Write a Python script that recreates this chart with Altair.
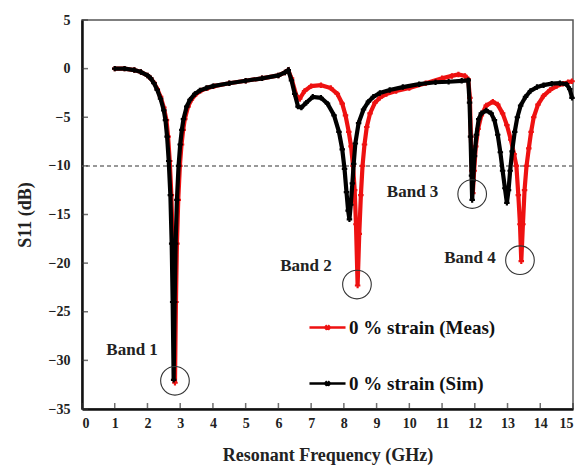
import altair as alt
import pandas as pd

# ---- data ----
sim_f = [1.0, 1.3, 1.6, 1.8, 2.0, 2.1, 2.2, 2.3, 2.4, 2.5,
         2.55, 2.6, 2.65, 2.7, 2.74, 2.77, 2.8, 2.83, 2.86, 2.9,
         2.95, 3.0, 3.05, 3.1, 3.2, 3.3, 3.45, 3.6, 3.8, 4.0,
         4.5, 5.0, 5.5, 6.0, 6.2, 6.3, 6.4, 6.5, 6.6, 6.7,
         6.85, 7.05, 7.3, 7.5, 7.7, 7.85, 7.95, 8.02, 8.08, 8.13,
         8.17, 8.21, 8.26, 8.3, 8.35, 8.45, 8.6, 8.75, 8.9, 9.1,
         9.4, 9.8, 10.3, 10.8, 11.2, 11.6, 11.8, 11.84, 11.87, 11.9,
         11.92, 11.95, 11.99, 12.05, 12.12, 12.2, 12.35, 12.5, 12.6, 12.7,
         12.78, 12.85, 12.92, 12.98, 13.03, 13.08, 13.14, 13.22, 13.3, 13.4,
         13.55, 13.7, 13.9, 14.1, 14.35, 14.6, 14.8, 14.9, 14.97]
sim_db = [0.0, 0.0, -0.15, -0.35, -0.7, -1.0, -1.5, -2.2, -3.1, -4.3,
          -5.3, -7.0, -9.5, -13, -18, -24, -32, -24, -18, -13.5,
          -10, -7.8, -6.3, -5.2, -3.9, -3.2, -2.6, -2.25, -2.0, -1.8,
          -1.5, -1.25, -1.0, -0.7, -0.4, -0.15, -1.2, -2.6, -3.9, -4.0,
          -3.5, -2.9, -3.0, -3.6, -4.8, -6.5, -8.3, -10.3, -12.7, -14.6,
          -15.5, -14, -11.8, -9.8, -7.7, -5.6, -4.2, -3.4, -2.9, -2.5,
          -2.2, -1.9, -1.6, -1.4, -1.35, -1.25, -1.2, -3.5, -7, -11,
          -13.5, -11.5, -9.0, -6.8, -5.2, -4.6, -4.3, -4.6, -5.3, -6.8,
          -8.6, -10.5, -12.3, -13.8, -12.5, -10.5, -8.5, -6.5, -5.0, -3.8,
          -2.9, -2.3, -1.9, -1.7, -1.55, -1.5, -1.6, -2.1, -3.0]

meas_f = [1.0, 1.3, 1.6, 1.8, 2.0, 2.1, 2.2, 2.3, 2.4, 2.5,
          2.58, 2.63, 2.68, 2.73, 2.77, 2.8, 2.84, 2.87, 2.9, 2.94,
          2.99, 3.04, 3.09, 3.14, 3.24, 3.34, 3.49, 3.64, 3.84, 4.04,
          4.5, 5.0, 5.5, 6.0, 6.2, 6.3, 6.4, 6.55, 6.65, 6.8,
          7.0, 7.3, 7.6, 7.8, 7.95, 8.05, 8.15, 8.22, 8.28, 8.33,
          8.37, 8.42, 8.47, 8.52, 8.57, 8.63, 8.7, 8.8, 8.95, 9.1,
          9.3, 9.6, 10.0, 10.5, 11.0, 11.3, 11.5, 11.7, 11.8, 11.85,
          11.88, 11.91, 11.94, 11.98, 12.03, 12.1, 12.2, 12.35, 12.55, 12.7,
          12.85, 12.98, 13.1, 13.2, 13.27, 13.33, 13.38, 13.42, 13.47, 13.52,
          13.58, 13.65, 13.72, 13.8, 13.93, 14.1, 14.3, 14.5, 14.7, 14.85, 14.97]
meas_db = [0.0, 0.0, -0.15, -0.35, -0.7, -1.0, -1.45, -2.1, -2.9, -4.0,
           -5.3, -7.0, -9.5, -13, -18, -24, -32.3, -24, -18, -13.5,
           -10, -7.8, -6.3, -5.2, -3.9, -3.2, -2.6, -2.25, -2.0, -1.8,
           -1.5, -1.25, -1.0, -0.7, -0.4, -0.15, -1.0, -2.8, -3.1, -2.3,
           -1.8, -1.7, -2.0, -2.6, -3.6, -4.8, -6.5, -8.0, -10, -12.5,
           -16, -22.3, -17, -13, -10, -7.8, -6.0, -4.6, -3.5, -3.0,
           -2.6, -2.3, -2.0, -1.5, -1.0, -0.75, -0.6, -0.75, -1.1, -3.0,
           -7, -10.5, -12.8, -10.5, -8, -6.2, -4.8, -3.8, -3.4, -3.7,
           -4.6, -5.8, -7.3, -8.8, -10, -13, -16, -19.8, -16, -12.5,
           -10, -8.2, -6.5, -5.0, -3.7, -2.8, -2.2, -1.8, -1.55, -1.4, -1.3]

series_names = ["0 % strain (Meas)", "0 % strain (Sim)"]
series_colors = ["#ee1111", "#000000"]

band_labels = ["Band 1", "Band 2", "Band 3", "Band 4"]
band_label_f = [1.53, 6.84, 10.1, 11.85]
band_label_db = [-28.9, -20.3, -12.7, -19.5]
band_circle_f = [2.84, 8.4, 11.92, 13.38]
band_circle_db = [-32.1, -22.2, -12.9, -19.7]

x_min, x_max = 0, 15
y_min, y_max = -35, 5
x_ticks = list(range(0, 16))
y_ticks = list(range(-35, 6, 5))
threshold_db = -10

# ---- tables (every layer uses the same f / db fields so axes merge cleanly) ----
meas = pd.DataFrame({"f": meas_f, "db": meas_db, "series": series_names[0]})
sim = pd.DataFrame({"f": sim_f, "db": sim_db, "series": series_names[1]})
band_txt = pd.DataFrame({"label": band_labels, "f": band_label_f, "db": band_label_db})
band_circ = pd.DataFrame({"f": band_circle_f, "db": band_circle_db})
xt = pd.DataFrame({"f": x_ticks, "db": [y_min] * len(x_ticks)})
yt = pd.DataFrame({"f": [x_min] * len(y_ticks), "db": y_ticks})
thr = pd.DataFrame({"db": [threshold_db]})

FONT = "Liberation Serif"
xs = alt.Scale(domain=[x_min, x_max], nice=False)
ys = alt.Scale(domain=[y_min, y_max], nice=False)
cscale = alt.Scale(domain=series_names, range=series_colors)
color_leg = alt.Color("series:N", scale=cscale,
                      legend=alt.Legend(title=None, orient="none", legendX=226, legendY=288,
                                        symbolType="M-1,0L1,0M-0.12,-0.12L0.12,0.12M-0.12,0.12L0.12,-0.12",
                                        symbolSize=1300, symbolStrokeWidth=2.4,
                                        labelFont=FONT, labelFontSize=19, labelFontWeight="bold",
                                        labelColor="#111", rowPadding=26, labelOffset=2, padding=0))
color_nol = alt.Color("series:N", scale=cscale, legend=None)

xaxis = alt.Axis(values=x_ticks, title="Resonant Frequency (GHz)", tickSize=0,
                 labelPadding=7, titlePadding=16, labelOverlap=False)
yaxis = alt.Axis(values=y_ticks, title="S11 (dB)", tickSize=0,
                 labelPadding=12, titlePadding=14, labelOverlap=False)
xenc = alt.X("f:Q", scale=xs, axis=xaxis)
yenc = alt.Y("db:Q", scale=ys, axis=yaxis)

lines_m = alt.Chart(meas).mark_line(strokeWidth=4.2).encode(x=xenc, y=yenc, color=color_leg)
pts_m = alt.Chart(meas).mark_point(shape="cross", size=30, filled=True, opacity=1).encode(
    x=xenc, y=yenc, color=color_nol)
lines_s = alt.Chart(sim).mark_line(strokeWidth=4.2).encode(x=xenc, y=yenc, color=color_nol)
pts_s = alt.Chart(sim).mark_point(shape="cross", size=30, filled=True, opacity=1).encode(
    x=xenc, y=yenc, color=color_nol)

thresh = alt.Chart(thr).mark_rule(color="#777", strokeDash=[4, 3], strokeWidth=1.5).encode(y=yenc)

circles = alt.Chart(band_circ).mark_point(shape="circle", size=820, filled=False, color="#333",
                                          strokeWidth=1.1, opacity=1).encode(x=xenc, y=yenc)
labels = alt.Chart(band_txt).mark_text(font=FONT, fontSize=17, fontWeight="bold", color="#222").encode(
    x=xenc, y=yenc, text="label:N")

xtick_marks = alt.Chart(xt).mark_tick(orient="vertical", size=6, thickness=1.5, color="#333").encode(
    x=xenc, y=yenc, yOffset=alt.value(-3))
ytick_marks = alt.Chart(yt).mark_tick(orient="horizontal", size=6, thickness=1.5, color="#333").encode(
    x=xenc, y=yenc, xOffset=alt.value(3))

chart = alt.layer(thresh, lines_m, pts_m, lines_s, pts_s, circles, labels, xtick_marks, ytick_marks).properties(
    width=491, height=389,
    autosize=alt.AutoSizeParams(type="none"),
    padding={"left": 74, "top": 12, "right": 3, "bottom": 57},
    background="white",
).configure_view(stroke="#555", strokeWidth=1.5).configure_axis(
    domainColor="#111", domainWidth=2.5, grid=False,
    labelFont=FONT, labelFontSize=14, labelFontWeight="bold", labelColor="#222",
    titleFont=FONT, titleFontSize=18, titleFontWeight="bold", titleColor="#222",
)

chart.save("out.html", embed_options={"renderer": "svg", "actions": False})
